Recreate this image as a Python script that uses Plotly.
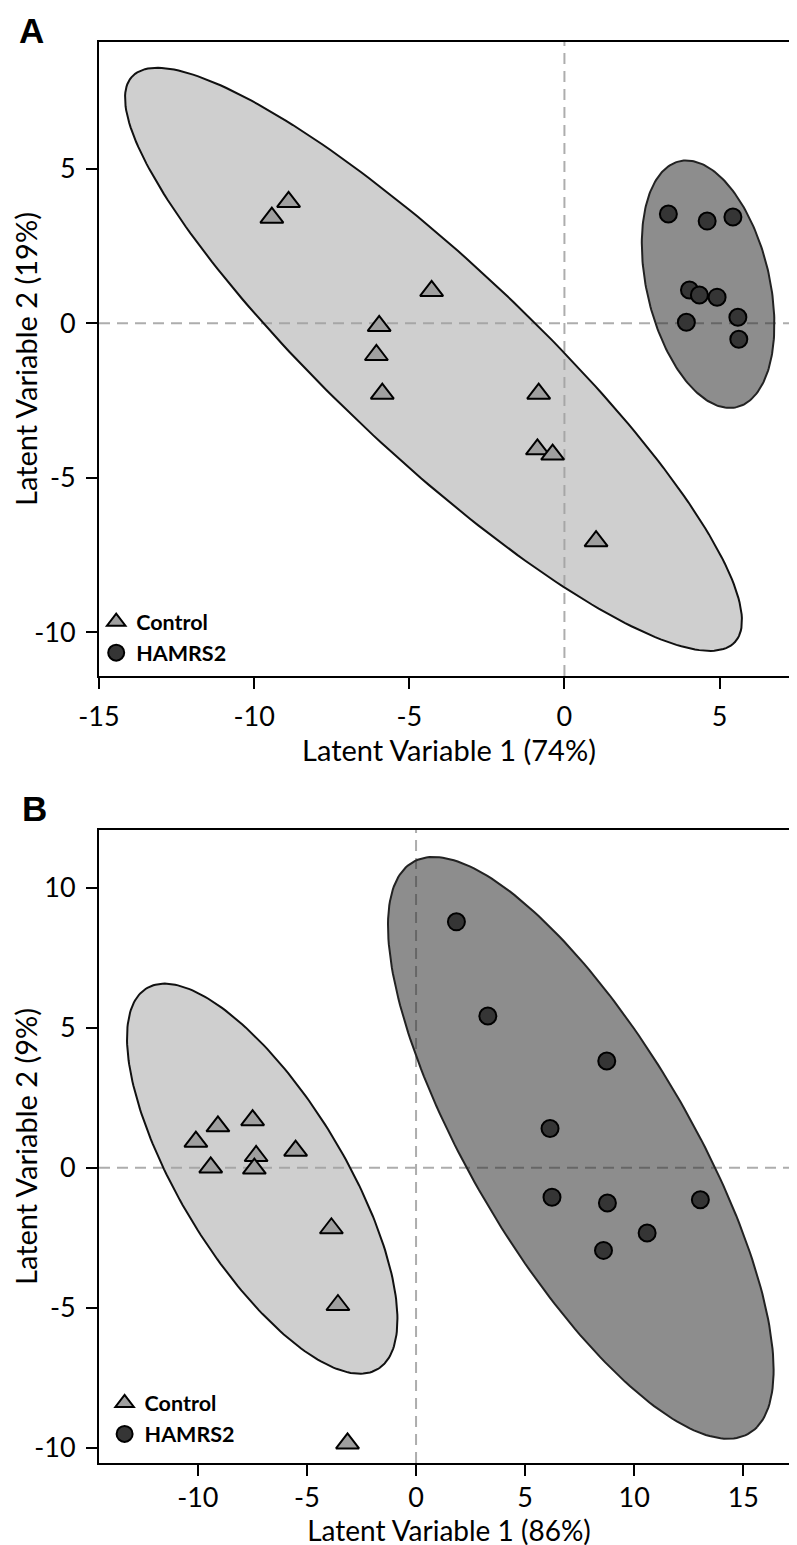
import numpy as np
import plotly.graph_objects as go

# ---------------- data ----------------
# Panel A
a_ctrl_x = [-8.89, -9.43, -4.28, -5.97, -6.06, -5.87, -0.83, -0.87, -0.38, 1.02]
a_ctrl_y = [3.92, 3.41, 1.04, -0.09, -1.03, -2.28, -2.28, -4.08, -4.25, -7.05]
a_ham_x = [3.35, 4.60, 5.43, 4.03, 4.35, 4.92, 3.93, 5.59, 5.62]
a_ham_y = [3.53, 3.30, 3.43, 1.07, 0.91, 0.84, 0.03, 0.19, -0.52]
# Panel B
b_ctrl_x = [-9.08, -7.49, -10.09, -7.33, -5.52, -9.41, -7.41, -3.88, -3.58, -3.14]
b_ctrl_y = [1.48, 1.70, 0.93, 0.42, 0.61, 0.01, -0.03, -2.16, -4.90, -9.84]
b_ham_x = [1.85, 3.29, 8.74, 6.14, 6.23, 8.77, 13.03, 10.59, 8.59]
b_ham_y = [8.78, 5.42, 3.81, 1.40, -1.05, -1.26, -1.14, -2.33, -2.95]

# confidence ellipses: centre x, centre y, semi-major, semi-minor, angle (deg)
a_ctrl_ellipse = [-4.22, -1.17, 13.34, 3.12, -43.3]
a_ham_ellipse = [4.63, 1.26, 4.08, 1.98, -77.0]
b_ctrl_ellipse = [-7.05, -0.39, 8.66, 3.45, -49.6]
b_ham_ellipse = [7.55, 0.71, 12.83, 4.62, -51.0]

# axes
a_xrange = [-15, 7.56]
a_yrange = [-11.41, 9.09]
b_xrange = [-14.53, 17.55]
b_yrange = [-10.54, 12.06]
a_xticks = [-15, -10, -5, 0, 5]
a_xticktext = ["-15", "-10", "-5", "0", "5"]
a_yticks = [-10, -5, 0, 5]
a_yticktext = ["-10", "-5", "0", "5"]
b_xticks = [-10, -5, 0, 5, 10, 15]
b_xticktext = ["-10", "-5", "0", "5", "10", "15"]
b_yticks = [-10, -5, 0, 5, 10]
b_yticktext = ["-10", "-5", "0", "5", "10"]

group_names = ["Control", "HAMRS2"]
a_xtitle = "Latent Variable 1 (74%)"
a_ytitle = "Latent Variable 2 (19%)"
b_xtitle = "Latent Variable 1 (86%)"
b_ytitle = "Latent Variable 2 (9%)"

# ---------------- styles ----------------
FONT = "Lato"
TRI_FILL = "#9f9f9f"
CIRC_FILL = "#353535"
ELL_LIGHT = "rgba(160,160,160,0.5)"
ELL_DARK = "rgba(40,40,40,0.53)"


def ellipse(params, n=240):
    cx, cy, a, b, ang = params
    th = np.deg2rad(ang)
    t = np.linspace(0, 2 * np.pi, n)
    x = cx + a * np.cos(t) * np.cos(th) - b * np.sin(t) * np.sin(th)
    y = cy + a * np.cos(t) * np.sin(th) + b * np.sin(t) * np.cos(th)
    return x, y


fig = go.Figure()


def add_panel(xa, ya, legend, ctrl_ell, ham_ell, cx, cy, hx, hy):
    for params, fill, lc in [(ctrl_ell, ELL_LIGHT, "#111111"), (ham_ell, ELL_DARK, "#222222")]:
        ex, ey = ellipse(params)
        fig.add_trace(go.Scatter(x=ex, y=ey, mode="lines", fill="toself",
                                 fillcolor=fill, line=dict(color=lc, width=2),
                                 hoverinfo="skip", showlegend=False,
                                 xaxis=xa, yaxis=ya))
    fig.add_trace(go.Scatter(x=cx, y=cy, mode="markers", name="<b>%s</b>" % group_names[0],
                             marker=dict(symbol="triangle-up", size=20, color=TRI_FILL,
                                         line=dict(color="black", width=2)),
                             xaxis=xa, yaxis=ya, legend=legend))
    fig.add_trace(go.Scatter(x=hx, y=hy, mode="markers", name="<b>%s</b>" % group_names[1],
                             marker=dict(symbol="circle", size=17, color=CIRC_FILL,
                                         line=dict(color="black", width=2)),
                             xaxis=xa, yaxis=ya, legend=legend))


add_panel("x", "y", "legend", a_ctrl_ellipse, a_ham_ellipse, a_ctrl_x, a_ctrl_y, a_ham_x, a_ham_y)
add_panel("x2", "y2", "legend2", b_ctrl_ellipse, b_ham_ellipse, b_ctrl_x, b_ctrl_y, b_ham_x, b_ham_y)

# dashed zero reference lines
dash_style = dict(color="#adadad", width=2, dash="11px,7px")
for xr, yr in [("x", "y"), ("x2", "y2")]:
    fig.add_shape(type="line", xref=xr, yref=yr + " domain", x0=0, x1=0, y0=0, y1=1,
                  line=dash_style, layer="below")
    fig.add_shape(type="line", xref=xr + " domain", yref=yr, x0=0, x1=1, y0=0, y1=0,
                  line=dash_style, layer="below")

A_DOM = [0.5538, 1.0]
B_DOM = [0.0, 0.4455]

axis_common = dict(showline=True, mirror=True, linecolor="black", linewidth=2,
                   ticks="outside", ticklen=11, tickwidth=2, tickcolor="black",
                   showgrid=False, zeroline=False,
                   tickfont=dict(family=FONT, size=27, color="black"))
title_font = dict(family=FONT, size=29, color="black")
title_font_b = dict(family=FONT, size=28, color="black")

legend_common = dict(xanchor="left", yanchor="bottom", bgcolor="rgba(0,0,0,0)",
                     font=dict(family=FONT, size=21.5, color="black"),
                     tracegroupgap=0, itemwidth=30)

fig.update_layout(
    width=797, height=1545,
    margin=dict(l=87, r=4, t=34, b=90),
    paper_bgcolor="white", plot_bgcolor="white",
    xaxis=dict(domain=[0, 1], anchor="y", range=a_xrange, tickvals=a_xticks,
               ticktext=a_xticktext, ticklabelstandoff=5,
               title=dict(text=a_xtitle, font=title_font, standoff=5),
               **axis_common),
    yaxis=dict(domain=A_DOM, anchor="x", range=a_yrange, tickvals=a_yticks,
               ticktext=a_yticktext, ticklabelstandoff=5,
               title=dict(text=a_ytitle, font=title_font, standoff=2),
               **axis_common),
    xaxis2=dict(domain=[0, 1], anchor="y2", range=b_xrange, tickvals=b_xticks,
                ticktext=b_xticktext, ticklabelstandoff=-1,
                title=dict(text=b_xtitle, font=title_font_b, standoff=0),
                **axis_common),
    yaxis2=dict(domain=B_DOM, anchor="x2", range=b_yrange, tickvals=b_yticks,
                ticktext=b_yticktext, ticklabelstandoff=5,
                title=dict(text=b_ytitle, font=title_font, standoff=2),
                **axis_common),
    legend=dict(x=-0.004, y=A_DOM[0] + 0.002, **legend_common),
    legend2=dict(x=0.008, y=B_DOM[0] + 0.006, **legend_common),
    annotations=[
        dict(text="<b>A</b>", xref="paper", yref="paper", x=-0.1175, y=1.0232,
             xanchor="left", yanchor="top", showarrow=False,
             font=dict(family="Liberation Sans", size=35, color="black")),
        dict(text="<b>B</b>", xref="paper", yref="paper", x=-0.1135, y=0.4755,
             xanchor="left", yanchor="top", showarrow=False,
             font=dict(family="Liberation Sans", size=35, color="black")),
    ],
)

fig.write_html("out.html")
